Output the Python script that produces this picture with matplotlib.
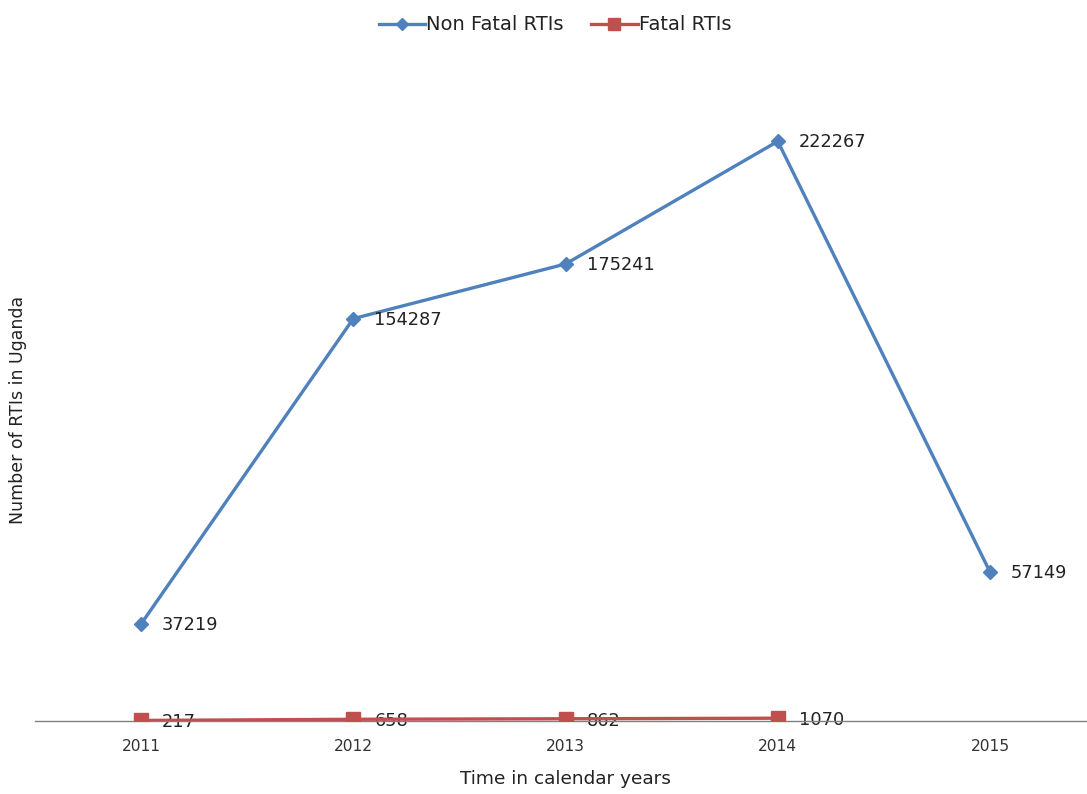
import matplotlib.pyplot as plt
import numpy as np

years = ["2011", "2012", "2013", "2014", "2015"]
non_fatal = [37219, 154287, 175241, 222267, 57149]
fatal = [217, 658, 862, 1070, np.nan]

blue = "#4F81BD"
red = "#C0504D"

fig = plt.figure(figsize=(10.87, 7.94), dpi=100)
ax = fig.add_axes([35 / 1087, 73 / 794, 1 - 35 / 1087, 652 / 794])

x = np.arange(len(years))
ax.plot(x, non_fatal, color=blue, lw=2.4, marker="D", ms=7,
        mfc=blue, mec=blue, label="Non Fatal RTIs", zorder=3)
ax.plot(x, fatal, color=red, lw=2.4, marker="s", ms=10,
        mfc=red, mec=red, label="Fatal RTIs", zorder=3)

# value labels to the right of each point
for xi, v in zip(x, non_fatal):
    ax.annotate(str(v), (xi, v), xytext=(21, -1), textcoords="offset pixels",
                ha="left", va="center", fontsize=12.8, color="#222222")
for xi, v in zip(x, fatal):
    if np.isnan(v):
        continue
    ax.annotate(str(int(v)), (xi, v), xytext=(21, -2), textcoords="offset pixels",
                ha="left", va="center", fontsize=12.8, color="#222222", zorder=2)

ax.set_xlim(-0.5, 4.457)
ax.set_ylim(0, 250000)
ax.set_xticks(x)
ax.set_xticklabels(years, fontsize=11.2, color="#333333")
ax.tick_params(axis="x", length=0, pad=13)
ax.set_yticks([])
for s in ["top", "right", "left"]:
    ax.spines[s].set_visible(False)
ax.spines["bottom"].set_color("#808080")
ax.spines["bottom"].set_linewidth(1)

fig.text(565 / 1087, 1 - 779 / 794, "Time in calendar years", ha="center",
         va="center", fontsize=13.3, color="#222222")
fig.text(18 / 1087, 1 - 410 / 794, "Number of RTIs in Uganda", rotation=90,
         ha="center", va="center", fontsize=12.5, color="#222222")

leg = fig.legend(loc="center", bbox_to_anchor=(555 / 1087, 1 - 25 / 794), ncol=2,
                 frameon=False, fontsize=14, handlelength=2.4, handletextpad=0.05,
                 columnspacing=1.4, labelcolor="#222222")
leg.legend_handles[0].set_markersize(6)
leg.legend_handles[1].set_markersize(9)

fig.savefig("out.png", dpi=100)
